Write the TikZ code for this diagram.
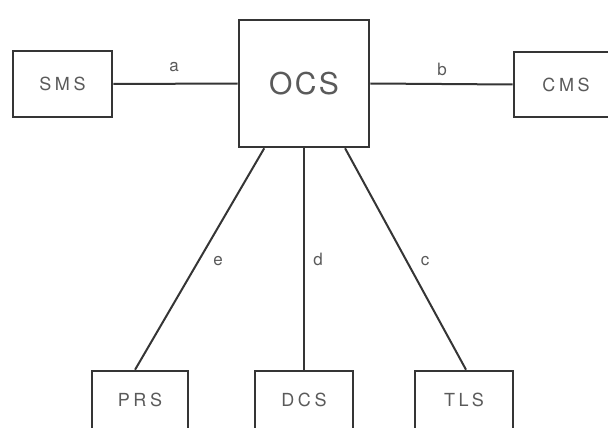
\documentclass[tikz,border=0pt]{standalone}
\usepackage{fontspec}
\setmainfont{TeX Gyre Heros}
\usetikzlibrary{calc}
\definecolor{inkline}{HTML}{353535}
\definecolor{inktext}{HTML}{5A5A5A}
\newfontfamily\letterfont[LetterSpace=20]{TeX Gyre Heros}
\newfontfamily\bigletterfont[LetterSpace=8]{TeX Gyre Heros}
\tikzset{
  unit/.style={draw=inkline, line width=2.6pt, fill=white, inner sep=0pt,
    font=\letterfont\fontsize{18}{18}\selectfont, text=inktext},
  bigunit/.style={unit, font=\bigletterfont\fontsize{30}{30}\selectfont},
  link/.style={draw=inkline, line width=2pt},
  tag/.style={font=\fontsize{17}{17}\selectfont, text=inktext, inner sep=0pt}
}
\begin{document}
\begin{tikzpicture}[x=1pt, y=-1pt]
  \useasboundingbox (0,0) rectangle (608,428);
  \clip (0,0) rectangle (608,428);
  \fill[white] (0,0) rectangle (608,428);

  % units
  \node[bigunit, minimum width=130pt, minimum height=127pt] (ocs) at (304,83.5) {OCS};
  \node[unit, minimum width=99pt, minimum height=66pt] (sms) at (62.5,84) {SMS};
  \node[unit, minimum width=104pt, minimum height=65pt] (cms) at (566,84.5) {CMS};
  \node[unit, minimum width=96pt, minimum height=58pt] (prs) at (140,400) {PRS};
  \node[unit, minimum width=98pt, minimum height=58pt] (dcs) at (304,400) {DCS};
  \node[unit, minimum width=98pt, minimum height=58pt] (tls) at (464,400) {TLS};

  % connections
  \draw[link] (sms.east) -- (ocs.west);
  \draw[link] (ocs.east) -- (cms.west);
  \draw[link] ($(ocs.south west)!0.2!(ocs.south east)$) -- ($(prs.north west)!0.45!(prs.north east)$);
  \draw[link] (ocs.south) -- (dcs.north);
  \draw[link] ($(ocs.south west)!0.81!(ocs.south east)$) -- ($(tls.north west)!0.52!(tls.north east)$);

  % interface labels
  \node[tag] (la) at (174,67) {a};
  \node[tag] (lb) at (442,69) {b};
  \node[tag] (lc) at (425,261) {c};
  \node[tag] (ld) at (318,259) {d};
  \node[tag] (le) at (218,261) {e};
\end{tikzpicture}
\end{document}
